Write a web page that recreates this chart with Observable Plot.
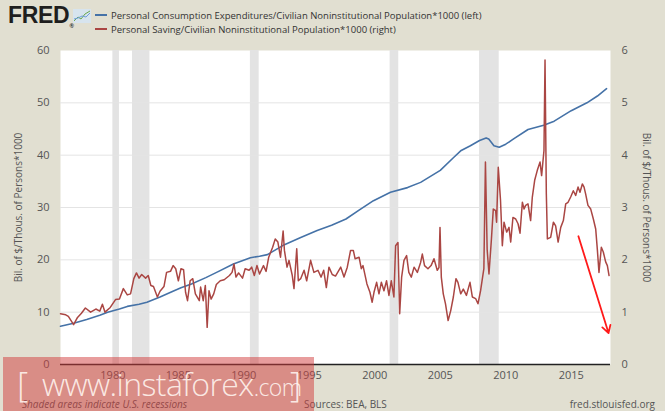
<!DOCTYPE html>
<html>
<head>
<meta charset="utf-8">
<script src="https://cdn.jsdelivr.net/npm/d3@7"></script>
<script src="https://cdn.jsdelivr.net/npm/@observablehq/plot@0.6"></script>
<style>
  html, body { margin: 0; padding: 0; background: #e1dfd1; }
  #wrap { position: relative; width: 665px; height: 411px; overflow: hidden; background: #e1dfd1; font-family: "Open Sans", sans-serif; }
  #logo { position: absolute; left: 8px; top: 2px; font-family: "Liberation Sans", Arial, sans-serif; font-weight: bold; font-size: 23px; color: #1e1e1e; letter-spacing: -0.3px; }
  #icon { position: absolute; left: 73px; top: 9px; }
  .leg { position: absolute; left: 95px; font-size: 9.5px; color: #333; white-space: nowrap; }
  .leg .sw { display: inline-block; width: 12px; height: 0; border-top: 2px solid; vertical-align: middle; margin-right: 4px; position: relative; top: -1px; }
  #chart { position: absolute; left: 0; top: 40px; }
  .foot { position: absolute; top: 397px; font-size: 10px; color: #555; white-space: nowrap; }
  #wm { position: absolute; left: 3px; top: 357px; width: 311px; height: 54px; background: rgba(210, 60, 60, 0.5); color: rgba(255, 245, 240, 0.9); font-family: "Open Sans", sans-serif; font-weight: 300; }
  #wm span { position: absolute; white-space: nowrap; }
</style>
</head>
<body>
<div id="wrap">
  <div id="logo">FRED<span style="font-size:6px;vertical-align:bottom">®</span></div>
  <svg id="icon" width="18" height="14" viewBox="0 0 18 14">
    <rect x="0" y="0" width="18" height="14" fill="#d7e4ee"/>
    <polyline points="1,12 5,8 8,10 12,5 17,2" fill="none" stroke="#6aa84f" stroke-width="1"/>
    <polyline points="1,10 5,9 9,7 13,8 17,4" fill="none" stroke="#6f9fd8" stroke-width="1"/>
  </svg>
  <div class="leg" style="top:9px"><span class="sw" style="border-color:#4572A7"></span>Personal Consumption Expenditures/Civilian Noninstitutional Population*1000 (left)</div>
  <div class="leg" style="top:23px"><span class="sw" style="border-color:#AA4643"></span>Personal Saving/Civilian Noninstitutional Population*1000 (right)</div>
  <div id="chart"></div>
  <div class="foot" style="left:22px;font-style:italic">Shaded areas indicate U.S. recessions</div>
  <div class="foot" style="left:304px">Sources: BEA, BLS</div>
  <div class="foot" style="right:10px">fred.stlouisfed.org</div>
  <div id="wm">
    <span style="left:14px;top:3px;font-size:35px">[</span>
    <span style="left:39px;top:5px;font-size:32px;letter-spacing:-0.6px">www.instaforex<span style="position:static;font-size:23px">.com</span></span>
    <span style="left:287px;top:3px;font-size:35px">]</span>
  </div>
</div>
<script>
// Recession periods (decimal years)
const recStart = [1980.0, 1981.5, 1990.5, 2001.17, 2008.0];
const recEnd   = [1980.5, 1982.83, 1991.17, 2001.83, 2009.5];

// PCE per capita (left axis)
const pceYears = [1976.0,1977.0,1978.0,1979.0,1979.6,1980.5,1981.1,1982.0,1982.6,1983.6,1984.5,1985.2,1986.0,1987.1,1988.0,1989.2,1990.5,1991.2,1991.8,1993.1,1994.3,1995.6,1996.7,1997.8,1998.8,1999.9,2001.2,2002.5,2003.5,2005.0,2006.0,2006.6,2007.3,2008.0,2008.5,2008.7,2009.1,2009.5,2010.0,2010.6,2011.7,2012.9,2013.7,2015.0,2016.2,2017.0,2017.7];
const pceVals  = [7.3,7.9,8.6,9.4,10.0,10.6,11.1,11.5,11.9,12.9,13.9,14.65,15.4,16.6,17.7,19.2,20.4,20.7,21.0,22.9,24.2,25.6,26.6,27.8,29.5,31.3,32.9,33.8,34.8,37.1,39.5,40.9,41.8,42.8,43.3,43.1,41.8,41.5,42.1,43.1,44.9,45.7,46.5,48.5,50.0,51.3,52.7];

// Personal saving per capita (right axis)
const savYears = [1976.0,1976.4,1976.6,1977.0,1977.3,1977.6,1977.9,1978.3,1978.7,1979.0,1979.2,1979.4,1979.8,1980.2,1980.5,1980.8,1981.1,1981.35,1981.6,1981.8,1982.0,1982.2,1982.5,1982.7,1982.9,1983.1,1983.4,1983.6,1983.9,1984.1,1984.4,1984.6,1984.8,1985.0,1985.2,1985.4,1985.55,1985.7,1985.9,1986.1,1986.3,1986.6,1986.7,1986.9,1987.06,1987.2,1987.34,1987.5,1987.7,1987.9,1988.2,1988.5,1988.9,1989.1,1989.25,1989.4,1989.6,1989.9,1990.1,1990.4,1990.6,1990.8,1991.0,1991.2,1991.5,1991.7,1991.9,1992.2,1992.4,1992.6,1992.8,1993.0,1993.1,1993.3,1993.45,1993.7,1993.83,1994.04,1994.16,1994.34,1994.6,1994.8,1995.1,1995.35,1995.66,1995.9,1996.1,1996.3,1996.5,1996.75,1997.0,1997.4,1997.65,1997.9,1998.15,1998.36,1998.5,1998.8,1998.97,1999.1,1999.4,1999.63,1999.8,1999.94,2000.14,2000.32,2000.5,2000.7,2000.9,2001.08,2001.26,2001.46,2001.59,2001.77,2001.9,2002.05,2002.23,2002.43,2002.6,2002.79,2003.0,2003.25,2003.5,2003.63,2003.8,2004.06,2004.3,2004.52,2004.77,2004.9,2004.98,2005.08,2005.23,2005.4,2005.6,2005.8,2006.0,2006.2,2006.35,2006.56,2006.76,2007.0,2007.27,2007.45,2007.7,2007.88,2008.08,2008.33,2008.45,2008.58,2008.72,2008.9,2009.05,2009.23,2009.3,2009.43,2009.6,2009.74,2009.87,2010.07,2010.25,2010.38,2010.55,2010.76,2010.94,2011.09,2011.27,2011.4,2011.52,2011.7,2011.9,2012.03,2012.21,2012.41,2012.62,2012.74,2012.92,2013.0,2013.1,2013.18,2013.43,2013.64,2013.81,2014.0,2014.2,2014.4,2014.58,2014.76,2014.96,2015.16,2015.34,2015.52,2015.67,2015.85,2015.98,2016.1,2016.28,2016.49,2016.69,2016.87,2017.0,2017.12,2017.3,2017.45,2017.63,2017.76,2017.89];
const savVals  = [0.97,0.95,0.92,0.76,0.90,0.98,1.08,1.00,1.06,1.02,1.15,1.00,1.09,1.24,1.25,1.45,1.33,1.35,1.64,1.75,1.65,1.72,1.65,1.70,1.51,1.49,1.29,1.40,1.49,1.76,1.78,1.89,1.83,1.60,1.83,1.81,1.38,1.22,1.60,1.64,1.35,1.22,1.48,1.22,1.51,0.71,1.41,1.25,1.35,1.53,1.60,1.62,1.70,1.76,1.92,1.67,1.75,1.65,1.83,1.80,1.86,1.70,1.89,1.73,1.89,1.78,2.05,2.24,2.40,2.34,2.05,2.55,2.18,1.86,1.99,1.70,1.45,2.21,1.60,1.64,1.80,1.60,1.99,1.76,1.80,1.67,1.80,1.47,1.86,1.72,1.69,1.86,1.67,1.86,2.18,2.18,2.02,2.05,1.83,1.89,1.54,1.38,1.19,1.38,1.57,1.35,1.57,1.41,1.60,1.32,1.60,1.29,2.27,2.33,0.97,1.67,1.99,2.08,1.76,1.67,1.86,1.76,1.95,2.11,1.89,1.83,1.89,2.02,1.80,1.85,2.62,1.67,1.35,1.16,0.84,1.03,1.29,1.64,1.57,1.35,1.44,1.32,1.57,1.29,1.26,1.16,1.41,1.83,3.87,2.20,1.73,2.37,2.97,2.94,2.72,3.77,3.14,2.27,2.72,2.53,2.62,2.34,2.81,2.78,2.69,2.51,3.10,2.97,3.04,3.07,2.75,3.20,3.52,3.71,3.87,3.61,4.09,5.82,3.26,2.40,2.43,2.72,2.65,2.34,2.62,2.75,3.07,3.10,3.20,3.32,3.23,3.39,3.29,3.45,3.39,3.26,3.04,2.97,2.78,2.59,2.18,1.76,2.24,2.15,1.96,1.89,1.70];

// Annotation arrow (year, right-axis value)
const arrowFrom = [2015.55, 2.45];
const arrowTo   = [2017.85, 0.6];

const leftTicks  = [0, 10, 20, 30, 40, 50, 60];
const xTicks     = [1980, 1985, 1990, 1995, 2000, 2005, 2010, 2015];
const ratio = 10; // right axis = left / 10

const recessions = recStart.map((s, i) => ({s, e: recEnd[i]}));
const pce = pceYears.map((t, i) => ({t, v: pceVals[i]}));
const sav = savYears.map((t, i) => ({t, v: savVals[i] * ratio}));
const arrow = [{x1: arrowFrom[0], y1: arrowFrom[1] * ratio, x2: arrowTo[0], y2: arrowTo[1] * ratio}];

const chart = Plot.plot({
  width: 665,
  height: 350,
  marginTop: 10,
  marginBottom: 26,
  marginLeft: 60,
  marginRight: 55,
  style: {fontFamily: "Open Sans, sans-serif", fontSize: "11px", color: "#555", background: "transparent", overflow: "visible"},
  x: {domain: [1976, 2018]},
  y: {domain: [0, 60]},
  marks: [
    Plot.frame({fill: "white", stroke: null}),
    Plot.rectX(recessions, {x1: "s", x2: "e", y1: 0, y2: 60, fill: "#e3e3e3"}),
    Plot.gridY(leftTicks.slice(1, -1), {stroke: "#e4e4e4", strokeOpacity: 1}),
    Plot.axisY(leftTicks, {anchor: "left", tickSize: 0, tickPadding: 11, label: null, fill: "#555"}),
    Plot.axisY(leftTicks, {anchor: "right", tickSize: 0, tickPadding: 11, label: null, tickFormat: d => d / ratio, fill: "#555"}),
    Plot.axisX(xTicks, {tickSize: 0, tickPadding: 7, label: null, tickFormat: d => String(d), fill: "#555"}),
    Plot.text(["Bil. of $/Thous. of Persons*1000"], {frameAnchor: "left", dx: -42, rotate: -90, textAnchor: "middle", fontSize: 10, fill: "#555"}),
    Plot.text(["Bil. of $/Thous. of Persons*1000"], {frameAnchor: "right", dx: 36, rotate: 90, textAnchor: "middle", fontSize: 10, fill: "#555"}),
    Plot.line(pce, {x: "t", y: "v", stroke: "#4572A7", strokeWidth: 1.6}),
    Plot.line(sav, {x: "t", y: "v", stroke: "#AA4643", strokeWidth: 1.5}),
    Plot.ruleY([0], {stroke: "#222", strokeWidth: 1.5}),
    Plot.arrow(arrow, {x1: "x1", y1: "y1", x2: "x2", y2: "y2", stroke: "#ff1a1a", strokeWidth: 1.8, headLength: 7})
  ]
});
document.getElementById("chart").appendChild(chart);
</script>
</body>
</html>
